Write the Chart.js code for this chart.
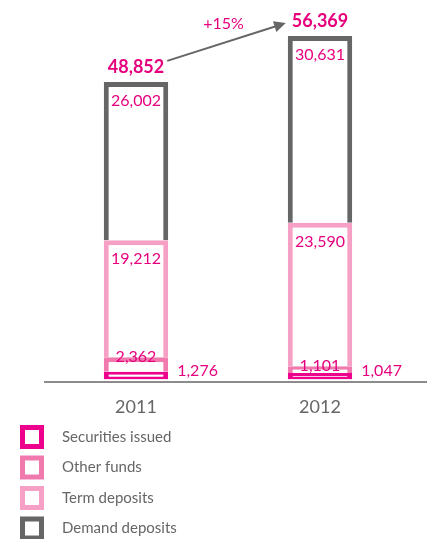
<!DOCTYPE html>
<html>
<head>
<meta charset="utf-8">
<title>Deposits</title>
<script src="https://cdn.jsdelivr.net/npm/chart.js"></script>
<style>
  html, body { margin: 0; padding: 0; background: #fff; }
</style>
</head>
<body>
<canvas id="myChart" width="427" height="539"></canvas>
<script>
// dados por ano (stack de baixo para cima)
const years = ["2011", "2012"];
const seriesNames = ["Securities issued", "Other funds", "Term deposits", "Demand deposits"];
const securitiesIssued = [1276, 1047];
const otherFunds = [2362, 1101];
const termDeposits = [19212, 23590];
const demandDeposits = [26002, 30631];
const totals = [48852, 56369];
const growthLabel = "+15%";

const colors = ["#ec008c", "#f07aae", "#f5a0c4", "#666666"];
const labelColor = "#e6007e";
const greyText = "#666666";
const fontName = "Lato, 'Open Sans', sans-serif";

const fmt = (v) => v.toLocaleString("en-US");

// barras so com contorno, fundo branco
function outlined(label, data, color, extra) {
  return Object.assign({
    label: label,
    data: data,
    backgroundColor: "#ffffff",
    borderColor: color,
    borderWidth: 5,
    borderSkipped: "start",
  }, extra || {});
}

const graph = {
  labels: years,
  datasets: [
    outlined(seriesNames[0], securitiesIssued, colors[0], {
      borderWidth: { top: 3, bottom: 3, left: 5, right: 5 },
      borderSkipped: false,
    }),
    outlined(seriesNames[1], otherFunds, colors[1]),
    outlined(seriesNames[2], termDeposits, colors[2]),
    outlined(seriesNames[3], demandDeposits, colors[3]),
  ],
};

// linha base, valores, seta e legenda desenhados por cima
const extras = {
  id: "extras",
  beforeDatasetsDraw(chart) {
    const ctx = chart.ctx;
    const y = chart.chartArea.bottom + 2.5;
    ctx.save();
    ctx.strokeStyle = "#8c8c8c";
    ctx.lineWidth = 2;
    ctx.beginPath();
    ctx.moveTo(44, y);
    ctx.lineTo(chart.width, y);
    ctx.stroke();
    ctx.restore();
  },
  afterDatasetsDraw(chart) {
    const ctx = chart.ctx;
    ctx.save();
    ctx.textAlign = "center";
    ctx.textBaseline = "middle";
    ctx.fillStyle = labelColor;

    const sec = chart.getDatasetMeta(0).data;
    const oth = chart.getDatasetMeta(1).data;
    const term = chart.getDatasetMeta(2).data;
    const dem = chart.getDatasetMeta(3).data;

    years.forEach((yr, i) => {
      ctx.font = "16px " + fontName;
      ctx.textAlign = "center";
      ctx.fillText(fmt(demandDeposits[i]), dem[i].x, dem[i].y + 19);
      ctx.fillText(fmt(termDeposits[i]), term[i].x, term[i].y + 19);
      ctx.fillText(fmt(otherFunds[i]), oth[i].x, oth[i].y);
      ctx.textAlign = "left";
      const right = sec[i].x + sec[i].width / 2;
      ctx.fillText(fmt(securitiesIssued[i]), right + 9, sec[i].base - 9);

      // total acima da barra
      ctx.textAlign = "center";
      ctx.font = "bold 18px " + fontName;
      ctx.fillText(fmt(totals[i]), dem[i].x, dem[i].y - 15);
    });

    // seta de crescimento
    const x0 = dem[0].x + dem[0].width / 2 - 1;
    const y0 = dem[0].y - 21;
    const x1 = dem[1].x - dem[1].width / 2 - 2;
    const y1 = dem[1].y - 13;
    const ang = Math.atan2(y1 - y0, x1 - x0);
    const head = 13;
    ctx.strokeStyle = "#666666";
    ctx.fillStyle = "#666666";
    ctx.lineWidth = 2;
    ctx.beginPath();
    ctx.moveTo(x0, y0);
    ctx.lineTo(x1 - Math.cos(ang) * head * 0.8, y1 - Math.sin(ang) * head * 0.8);
    ctx.stroke();
    ctx.beginPath();
    ctx.moveTo(x1, y1);
    ctx.lineTo(x1 - head * Math.cos(ang - 0.45), y1 - head * Math.sin(ang - 0.45));
    ctx.lineTo(x1 - head * Math.cos(ang + 0.45), y1 - head * Math.sin(ang + 0.45));
    ctx.closePath();
    ctx.fill();

    ctx.fillStyle = labelColor;
    ctx.font = "16px " + fontName;
    ctx.textAlign = "center";
    ctx.fillText(growthLabel, (x0 + x1) / 2 - 3, (y0 + y1) / 2 - 18);
    ctx.restore();
  },
  afterDraw(chart) {
    // legenda vertical embaixo
    const ctx = chart.ctx;
    ctx.save();
    chart.data.datasets.forEach((ds, i) => {
      const cy = 437 + i * 30.5;
      ctx.fillStyle = ds.borderColor;
      ctx.fillRect(20, cy - 12, 24, 24);
      ctx.fillStyle = "#ffffff";
      ctx.fillRect(25, cy - 7, 14, 14);
      ctx.fillStyle = greyText;
      ctx.font = "15px " + fontName;
      ctx.textAlign = "left";
      ctx.textBaseline = "middle";
      ctx.fillText(ds.label, 62, cy);
    });
    ctx.restore();
  },
};

const config = {
  type: "bar",
  data: graph,
  options: {
    responsive: false,
    animation: false,
    layout: { padding: { top: 14, left: 44, right: 15, bottom: 112 } },
    datasets: { bar: { categoryPercentage: 1, barPercentage: 0.35 } },
    plugins: { legend: { display: false }, tooltip: { enabled: false } },
    scales: {
      x: {
        stacked: true,
        grid: { display: false },
        border: { display: false },
        ticks: { color: greyText, font: { family: fontName, size: 18 }, padding: 9 },
      },
      y: { stacked: true, display: false, min: 0, max: 60000 },
    },
  },
  plugins: [extras],
};

const myChart = new Chart(document.getElementById("myChart"), config);
</script>
</body>
</html>
